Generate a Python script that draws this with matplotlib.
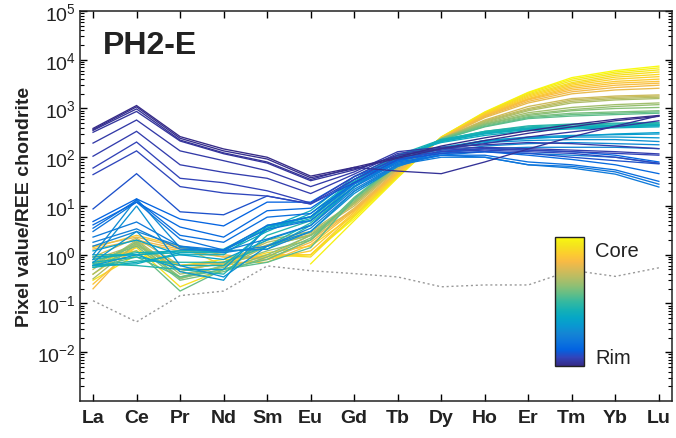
import numpy as np
import matplotlib
matplotlib.use("Agg")
import matplotlib.pyplot as plt
from matplotlib.colors import LinearSegmentedColormap
from matplotlib.cm import ScalarMappable
from matplotlib.ticker import LogLocator, NullFormatter

plt.rcParams['font.family'] = ['Liberation Sans', 'DejaVu Sans']
plt.rcParams['mathtext.fontset'] = 'custom'
plt.rcParams['mathtext.rm'] = 'Liberation Sans'
plt.rcParams['mathtext.default'] = 'regular'

elements = ['La', 'Ce', 'Pr', 'Nd', 'Sm', 'Eu', 'Gd', 'Tb', 'Dy', 'Ho', 'Er', 'Tm', 'Yb', 'Lu']
nan = np.nan

# Rim profiles (dark blue)
rim_profiles = [
    [390, 1150, 265, 148, 100, 41, 62, 100, 170, 250, 350, 470, 600, 720],
    [370, 1080, 245, 135, 92, 38, 58, 95, 150, 220, 310, 420, 560, 690],
    [355, 980, 225, 123, 80, 35, 62, 52, 46, 80, 148, 262, 435, 710],
    [325, 870, 215, 118, 76, 33, 55, 110, 150, 190, 260, 330, 420, 560],
    [195, 580, 135, 85, 53, 25, 50, 130, 160, 180, 200, 190, 170, 150],
    [105, 340, 70, 49, 37, 18, 45, 120, 150, 160, 150, 140, 130, 117],
    [60, 205, 37, 30, 20.5, 11.5, 40, 110, 140, 150, 140, 130, 120, 110],
    [44, 135, 25, 18.5, 16, 11, 35, 100, 130, 140, 130, 120, 100, 75],
    [8.7, 46, 7.6, 6.6, 16, 11, 30, 90, 120, 130, 120, 100, 85, 73],
]
rim_pos = [0.00, 0.01, 0.02, 0.03, 0.04, 0.05, 0.06, 0.07, 0.09]

# Intermediate profiles (blue)
outer_profiles = [
    [4.8, 14, 5.4, 3.9, 12, 12, 40, 90, 130, 150, 140, 130, 110, 80],
    [4.1, 12, 3.7, 2.3, 8, 9, 35, 85, 120, 130, 110, 90, 70, 46],
    [3.5, 13, 2.5, 1.8, 5.9, 7, 30, 80, 110, 110, 80, 70, 55, 32],
    [3.0, 12, 2.1, 1.25, 4, 6, 28, 75, 110, 100, 70, 65, 50, 28],
    [2.3, 4.7, 1.5, 1.25, 3.3, 5, 25, 70, 100, 100, 70, 60, 45, 24.5],
    [1.8, 3.4, 1.3, 1.2, 2.1, 4, 22, 70, 110, 130, 120, 110, 100, 75],
    [1.5, 3.0, 1.5, 1.1, 1.5, 3.5, 20, 65, 120, 150, 160, 160, 160, 150],
    [1.0, 14, 1.4, 1.2, 1.3, 3.0, 20, 70, 130, 170, 190, 200, 190, 180],
    [0.8, 10, 0.6, 0.35, 1.5, 3, 18, 65, 140, 200, 220, 230, 230, 210],
    [0.7, 3, 0.45, 0.3, 4, 5, 25, 80, 150, 220, 250, 260, 260, 250],
    [0.6, 1.0, 0.5, 0.5, 3.5, 6, 30, 90, 160, 220, 260, 280, 290, 300],
    [1.2, 2.0, 1.0, 0.8, 2.0, 4, 25, 85, 150, 210, 240, 270, 300, 320],
]
outer_pos = [0.13, 0.15, 0.17, 0.19, 0.21, 0.23, 0.25, 0.27, 0.29, 0.31, 0.33, 0.35]

# Mantle profiles (cyan)
mantle_profiles = [
    [0.9, 1.0, 1.2, 1.2, 3.5, 8, 40, 110, 200, 280, 350, 380, 400, 420],
    [0.6, 0.65, 1.1, 1.1, 3.0, 7, 35, 105, 210, 300, 370, 400, 420, 440],
    [0.55, 0.7, 1.0, 1.0, 4.0, 6, 32, 100, 220, 310, 380, 410, 430, 450],
    [0.7, 0.9, 0.6, 0.6, 3.3, 5.5, 30, 95, 220, 320, 390, 420, 440, 460],
    [0.8, 1.1, 1.2, 1.3, 3.8, 6, 35, 110, 230, 330, 400, 430, 450, 470],
    [1.0, 1.0, 1.1, 1.2, 1.3, 4, 25, 90, 210, 310, 390, 420, 450, 480],
    [0.65, 0.6, 0.5, 0.4, 2.5, 5, 28, 95, 230, 340, 420, 460, 480, 500],
    [0.6, 0.75, 0.7, 0.7, 1.5, 4.5, 24, 90, 220, 340, 440, 480, 500, 520],
]
mantle_pos = [0.40, 0.41, 0.42, 0.43, 0.44, 0.45, 0.46, 0.47]

# Inner profiles (green)
inner_profiles = [
    [0.55, 0.9, 0.35, 0.5, 0.7, 1.4, 14, 75, 230, 420, 620, 700, 750, 800],
    [0.6, 1.2, 0.18, 0.5, 0.8, 2.0, 15, 75, 230, 430, 650, 750, 800, 850],
    [0.7, 1.5, 0.3, 0.45, 0.9, 2.2, 14, 72, 240, 450, 680, 800, 850, 900],
    [0.6, 1.8, 0.33, 0.5, 1.0, 2.5, 13, 70, 240, 470, 720, 900, 1000, 1050],
    [0.65, 1.65, 0.35, 0.6, 1.2, 2.0, 12, 70, 240, 480, 760, 950, 1100, 1200],
    [0.4, 1.9, 0.4, 0.55, 1.5, 2.5, 12, 68, 245, 500, 820, 1050, 1200, 1300],
    [0.32, 1.7, 0.32, 0.6, 2.0, 3.0, 12, 65, 240, 520, 900, 1300, 1500, 1600],
    [0.5, 2.0, 0.45, 0.7, 1.8, 2.8, 11, 62, 240, 540, 950, 1400, 1600, 1700],
    [0.8, 1.6, 0.5, 0.65, 1.5, 2.5, 11, 60, 240, 560, 1000, 1500, 1700, 1800],
    [0.9, 2.2, 0.6, 0.7, 1.6, 2.6, 10, 58, 240, 580, 1100, 1600, 1800, 1900],
]
inner_pos = [0.55, 0.57, 0.59, 0.61, 0.63, 0.65, 0.67, 0.69, 0.71, 0.73]

# Core profiles (orange-yellow)
core_profiles = [
    [1.5, 2.3, 1.4, 1.0, 0.8, 2.0, 9, 55, 240, 650, 1300, 2000, 2400, 2600],
    [1.3, 2.0, 1.3, 0.9, 0.8, 1.8, 8.5, 52, 240, 680, 1400, 2200, 2700, 3000],
    [0.2, 1.8, 1.2, 0.9, 0.9, 2.5, 8, 50, 240, 700, 1500, 2400, 3000, 3300],
    [0.25, 1.5, 0.6, 0.7, 0.7, 1.6, 8, 48, 245, 720, 1550, 2600, 3300, 3600],
    [1.4, 2.5, 1.5, 0.6, 0.8, 1.2, 7.5, 46, 245, 740, 1600, 2800, 3600, 4000],
    [0.4, 1.6, 0.6, 0.7, 1.0, 1.0, 7, 45, 250, 760, 1700, 3000, 4000, 4500],
    [0.9, 1.2, 0.5, 0.65, 1.1, 1.5, 6.5, 44, 250, 780, 1800, 3200, 4400, 5000],
    [0.6, 1.4, 0.22, 0.5, 1.0, 0.9, 6.3, 42, 255, 800, 1900, 3400, 4800, 5600],
    [0.3, 1.0, 0.6, 0.8, 0.9, 1.0, 6, 40, 255, 820, 2000, 3700, 5200, 6200],
    [nan, nan, nan, nan, nan, 0.65, 5, 38, 260, 830, 2100, 4000, 5600, 6800],
    [nan, nan, nan, nan, nan, 1.0, 5.5, 40, 260, 850, 2150, 4300, 6000, 7400],
]
core_pos = [0.78, 0.80, 0.82, 0.84, 0.86, 0.88, 0.90, 0.92, 0.94, 0.97, 1.00]

detection_limit = [0.114, 0.042, 0.145, 0.18, 0.59, 0.47, 0.41, 0.35, 0.22, 0.24, 0.24, 0.48, 0.36, 0.54]

parula_anchors = [
    (0.2081, 0.1663, 0.5292), (0.1959, 0.2645, 0.7279), (0.0117, 0.3875, 0.8820),
    (0.0498, 0.4586, 0.8641), (0.0793, 0.5200, 0.8312), (0.0343, 0.5966, 0.8199),
    (0.0228, 0.6535, 0.7768), (0.0843, 0.6928, 0.7062), (0.2178, 0.7250, 0.6193),
    (0.3953, 0.7459, 0.5244), (0.5709, 0.7485, 0.4494), (0.7184, 0.7411, 0.3905),
    (0.8507, 0.7299, 0.3360), (0.9739, 0.7314, 0.2666), (0.9880, 0.8066, 0.1794),
    (0.9589, 0.8949, 0.1132), (0.9763, 0.9831, 0.0538),
]
parula = LinearSegmentedColormap.from_list('parula', parula_anchors, N=256)

fig = plt.figure(figsize=(6.76, 4.39), dpi=100)
ax = fig.add_axes([0.1183, 0.0843, 0.8757, 0.8884])
x = np.arange(len(elements))

groups = [(core_profiles, core_pos), (inner_profiles, inner_pos),
          (mantle_profiles, mantle_pos), (outer_profiles, outer_pos),
          (rim_profiles, rim_pos)]
for profiles, pos in groups:
    for prof, t in sorted(zip(profiles, pos), key=lambda p: -p[1]):
        ax.plot(x, prof, color=parula(t), lw=0.95, solid_joinstyle='miter')

ax.plot(x, detection_limit, color='#999999', ls=(0, (1.5, 2.0)), lw=1.0)

ax.set_yscale('log')
ax.set_ylim(1e-3, 1e5)
ax.set_xlim(-0.3, len(elements) - 1 + 0.3)
ax.set_xticks(x)
ax.set_xticklabels(elements, fontsize=14, fontweight='bold', color='#222222')
ax.yaxis.set_minor_locator(LogLocator(base=10, subs=np.arange(2, 10), numticks=20))
ax.yaxis.set_minor_formatter(NullFormatter())
ax.set_yticks([1e-2, 1e-1, 1e0, 1e1, 1e2, 1e3, 1e4, 1e5])
ax.set_yticklabels([r'$10^{-2}$', r'$10^{-1}$', r'$10^{0}$', r'$10^{1}$',
                    r'$10^{2}$', r'$10^{3}$', r'$10^{4}$', r'$10^{5}$'])
ax.tick_params(axis='y', which='major', labelsize=14, labelcolor='#222222', direction='in',
               length=5, width=1.0, left=True, right=True, pad=3)
ax.tick_params(axis='y', which='minor', direction='in', length=3, width=0.8, left=True, right=True)
ax.tick_params(axis='x', which='major', direction='in', length=5, width=1.0,
               bottom=True, top=True, pad=6)
for s in ax.spines.values():
    s.set_linewidth(1.1)
    s.set_color('#222222')

ax.set_ylabel('Pixel value/REE chondrite', fontsize=14, fontweight='bold', color='#222222',
              labelpad=3)
ax.text(0.039, 0.892, 'PH2-E', transform=ax.transAxes, fontsize=23, fontweight='bold',
        color='#222222', va='baseline', ha='left')

cax = fig.add_axes([0.821, 0.164, 0.0429, 0.294])
sm = ScalarMappable(cmap=parula)
sm.set_array([0, 1])
cb = fig.colorbar(sm, cax=cax, ticks=[])
cb.outline.set_linewidth(1.0)
cb.outline.set_edgecolor('#222222')
fig.text(0.880, 0.428, 'Core', fontsize=14.5, color='#222222', va='center', ha='left')
fig.text(0.880, 0.184, 'Rim', fontsize=14.5, color='#222222', va='center', ha='left')

fig.savefig('out.png', dpi=100)
